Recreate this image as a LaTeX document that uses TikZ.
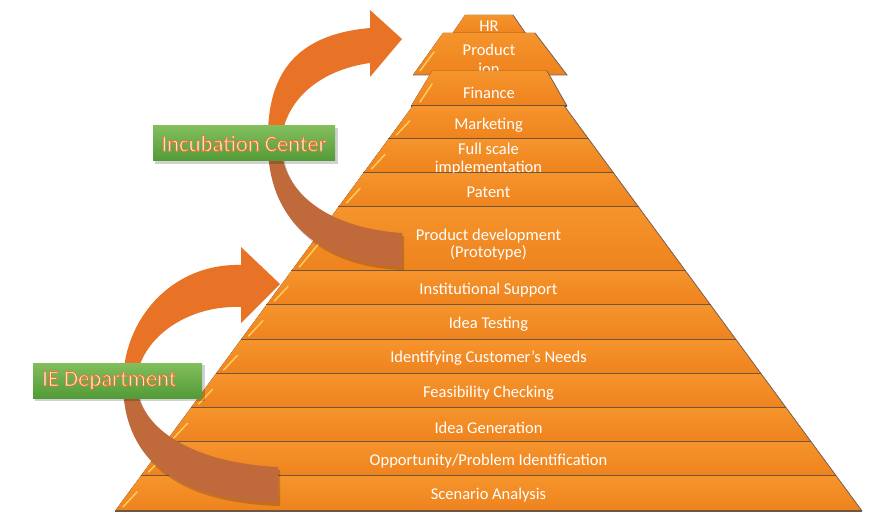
\documentclass[tikz,border=0pt]{standalone}
\usepackage{fontspec}
\setmainfont{Carlito}
\usetikzlibrary{calc}
\definecolor{layA}{RGB}{246,148,44}
\definecolor{layB}{RGB}{238,131,30}
\definecolor{sepc}{RGB}{112,86,62}
\definecolor{edgec}{RGB}{125,100,85}
\definecolor{hilite}{RGB}{255,206,95}
\definecolor{arrO}{RGB}{232,114,38}
\definecolor{arrB}{RGB}{192,106,60}
\definecolor{grA}{RGB}{130,190,92}
\definecolor{grB}{RGB}{82,155,56}
\definecolor{txtfill}{RGB}{255,240,228}
\newcommand\outlinedtext[1]{\special{pdf:literal q 2 Tr 0.75 w 0.93 0.45 0.16 RG 1 j}#1\special{pdf:literal Q}}
\tikzset{
  layfill/.style={top color=layA,bottom color=layB},
  sepline/.style={draw=sepc,line width=1.6pt},
  edgeline/.style={draw=edgec,line width=0.8pt},
  hiline/.style={draw=hilite,line width=1.4pt,line cap=round},
  lbl/.style={text=white,font=\fontsize{16.5}{17.5}\selectfont,align=center,inner sep=0pt,yshift=-1.5pt},
  greenbox/.style={top color=grA,bottom color=grB,inner sep=0pt,draw=none},
  gtxt/.style={text=txtfill,font=\fontsize{22.7}{24}\selectfont,inner sep=0pt},
  shadowc/.style={fill=black,opacity=0.18}
}
\newcommand\pyrlayer[5]{%
  \pgfmathsetmacro\xlt{115+(511-#1)*0.735}%
  \pgfmathsetmacro\xrt{977-\xlt}%
  \pgfmathsetmacro\xlb{115+(511-#2)*0.735}%
  \pgfmathsetmacro\xrb{977-\xlb}%
  \fill[layfill] (\xlt,#1) -- (\xrt,#1) -- (\xrb,#2) -- (\xlb,#2) -- cycle;
  \draw[edgeline] (\xrt,#1) -- (\xrb,#2);
  \draw[hiline] ($(\xlb,#2)+(8,-4)$) -- ($(\xlt,#1)!0.45!(\xlb,#2)+(8,0)$);
  \draw[sepline] (\xlb,#2) -- (\xrb,#2);
  \node[lbl] (#3) at (488.5,#4) {#5};
}
\begin{document}
\begin{tikzpicture}[x=1pt,y=-1pt]
\useasboundingbox (0,0) rectangle (878,513);
\fill[white] (0,0) rectangle (878,513);

% top separate pieces
\fill[layfill] (465,15) -- (513,15) -- (526,34) -- (452,34) -- cycle;
\draw[edgeline] (513,15) -- (526,34);
\node[lbl] (hr) at (489,25) {HR};

\fill[layfill] (443,33) -- (535,33) -- (567,75) -- (413,75) -- cycle;
\draw[edgeline] (535,33) -- (567,75) -- (413,75);
\draw[hiline] (420,71) -- (434,52);
\node[lbl,font=\fontsize{16.5}{19}\selectfont] (prod) at (489,58) {Product\\ion};

\fill[layfill] (432,71) -- (547,71) -- (567,106) -- (411,106) -- cycle;
\draw[edgeline] (547,71) -- (567,106);
\draw[hiline] (420,102) -- (432,84);
\draw[sepline] (411,106) -- (567,106);
\node[lbl] (fin) at (489,91) {Finance};

% main pyramid
\pyrlayer{106}{139}{mkt}{124}{Marketing}
\pyrlayer{139}{173}{full}{157.5}{Full scale\\implementation}
\pyrlayer{173}{207}{pat}{191}{Patent}
\pyrlayer{207}{271}{pdev}{243}{Product development\\(Prototype)}
\pyrlayer{271}{305}{inst}{289}{Institutional Support}
\pyrlayer{305}{340}{test}{323}{Idea Testing}
\pyrlayer{340}{374}{cust}{357}{Identifying Customer’s Needs}
\pyrlayer{374}{408}{feas}{392}{Feasibility Checking}
\pyrlayer{408}{442}{gen}{426}{Idea Generation}
\pyrlayer{442}{476}{opp}{460}{Opportunity/Problem Identification}
\pyrlayer{476}{511}{scen}{494}{Scenario Analysis}

% Incubation arrow
\coordinate (incTip) at (402,39);
\begin{scope}[shift={(2,3)}]
\fill[shadowc] (268,145) .. controls (268,220) and (320,265) .. (402,267)
  -- (402,233) .. controls (330,228) and (283,195) .. (281,145) -- cycle;
\end{scope}
\fill[arrB] (268,145) .. controls (268,220) and (320,265) .. (402,267)
  -- (402,233) .. controls (330,228) and (283,195) .. (281,145) -- cycle;
\fill[arrO] (268,145) .. controls (266,80) and (290,35) .. (370,28)
  -- (370,10) -- (incTip) -- (370,77) -- (370,63)
  .. controls (320,70) and (283,100) .. (281,145) -- cycle;

% IE arrow
\coordinate (ieTip) at (280,284);
\begin{scope}[shift={(2,3)}]
\fill[shadowc] (123,380) .. controls (122,455) and (170,500) .. (278,503)
  -- (278,467) .. controls (195,463) and (137,430) .. (136,380) -- cycle;
\end{scope}
\fill[arrB] (123,380) .. controls (122,455) and (170,500) .. (278,503)
  -- (278,467) .. controls (195,463) and (137,430) .. (136,380) -- cycle;
\fill[arrO] (123,380) .. controls (125,315) and (175,263) .. (241,265)
  -- (241,247) -- (ieTip) -- (241,323) -- (241,307)
  .. controls (190,305) and (142,335) .. (136,380) -- cycle;

% Labels
\fill[shadowc] (155,128) rectangle (338,164);
\node[greenbox,minimum width=182pt,minimum height=35pt] (inc) at (244,143.5) {};
\node[gtxt] (inctxt) at (inc) {\outlinedtext{Incubation Center}};

\fill[shadowc] (35,365) rectangle (205,401);
\node[greenbox,minimum width=169pt,minimum height=35pt] (ie) at (117.5,380.5) {};
\node[gtxt,anchor=west] (ietxt) at (42,380.5) {\outlinedtext{IE Department}};
\end{tikzpicture}
\end{document}
